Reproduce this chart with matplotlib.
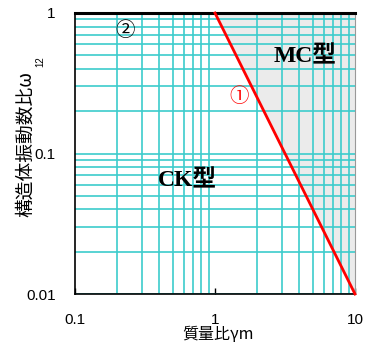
import numpy as np
import matplotlib
matplotlib.use("Agg")
import matplotlib.pyplot as plt
from matplotlib.ticker import LogLocator, NullFormatter, FixedLocator, FixedFormatter

# boundary line (1): omega = gamma_m ** -2
line_x = [1, 10]
line_y = [1, 0.01]

x_ticks = [0.1, 1, 10]
x_labels = ["0.1", "1", "10"]
y_ticks = [0.01, 0.1, 1]
y_labels = ["0.01", "0.1", "1"]

plt.rcParams['font.family'] = ['Liberation Sans', 'Noto Sans CJK JP', 'DejaVu Sans']

W, H = 375, 349
fig = plt.figure(figsize=(W / 100, H / 100), dpi=100)
ax = fig.add_axes([75 / W, 1 - 294 / H, 280 / W, 281 / H])
ax.set_xscale("log")
ax.set_yscale("log")
ax.set_xlim(0.1, 10)
ax.set_ylim(0.01, 1)

# shaded MC region above the line
gx = np.logspace(0, 1, 50)
ax.fill_between(gx, gx ** -2.0, 1, color="#ebebeb", zorder=0.3, lw=0)

ax.set_axisbelow(True)
ax.xaxis.set_minor_locator(LogLocator(base=10, subs=np.arange(2, 10)))
ax.yaxis.set_minor_locator(LogLocator(base=10, subs=np.arange(2, 10)))
ax.xaxis.set_minor_formatter(NullFormatter())
ax.yaxis.set_minor_formatter(NullFormatter())
ax.grid(which="minor", color="#3ccccc", lw=1.2)
ax.grid(which="major", axis="y", color="#3ccccc", lw=1.2)

ax.xaxis.set_major_locator(FixedLocator(x_ticks))
ax.xaxis.set_major_formatter(FixedFormatter(x_labels))
ax.yaxis.set_major_locator(FixedLocator(y_ticks))
ax.yaxis.set_major_formatter(FixedFormatter(y_labels))
ax.tick_params(which="minor", length=0)
ax.tick_params(axis="x", which="major", direction="in", length=4, width=1, labelsize=11, pad=14)
ax.tick_params(axis="y", which="major", length=0, labelsize=11, pad=14)

ax.plot(line_x, line_y, color="red", lw=2, zorder=3, clip_on=False)

for s in ["left", "bottom"]:
    ax.spines[s].set_color("black")
    ax.spines[s].set_linewidth(1.2)
ax.spines["top"].set_linewidth(2.2)
ax.spines["right"].set_color("#999999")
ax.spines["right"].set_linewidth(0.8)


def px(x, y):
    # pixel position (from top-left) -> figure fraction
    return x / W, 1 - y / H


serif = ['Liberation Serif', 'Noto Sans CJK JP']
fig.text(*px(305, 57), "MC型", fontsize=17, fontweight="bold",
         family=serif, ha="center", va="center")
fig.text(*px(187, 181), "CK型", fontsize=17, fontweight="bold",
         family=serif, ha="center", va="center")
fig.text(*px(239, 96), "①", fontsize=14, color="red",
         family=['Noto Sans CJK JP'], ha="center", va="center")
fig.text(*px(125, 30), "②", fontsize=14, color="black",
         family=['Noto Sans CJK JP'], ha="center", va="center")

fig.text(*px(218, 335), "質量比γm", fontsize=11.5, ha="center", va="center",
         family=['Noto Sans CJK JP', 'DejaVu Sans'])
fig.text(*px(26, 217), "構造体振動数比ω", fontsize=13.5, rotation=90,
         ha="center", va="bottom", family=['Noto Sans CJK JP', 'DejaVu Sans'])
fig.text(*px(40, 56), "12", fontsize=7, rotation=90, ha="center", va="top")

fig.savefig("out.png", dpi=100)
